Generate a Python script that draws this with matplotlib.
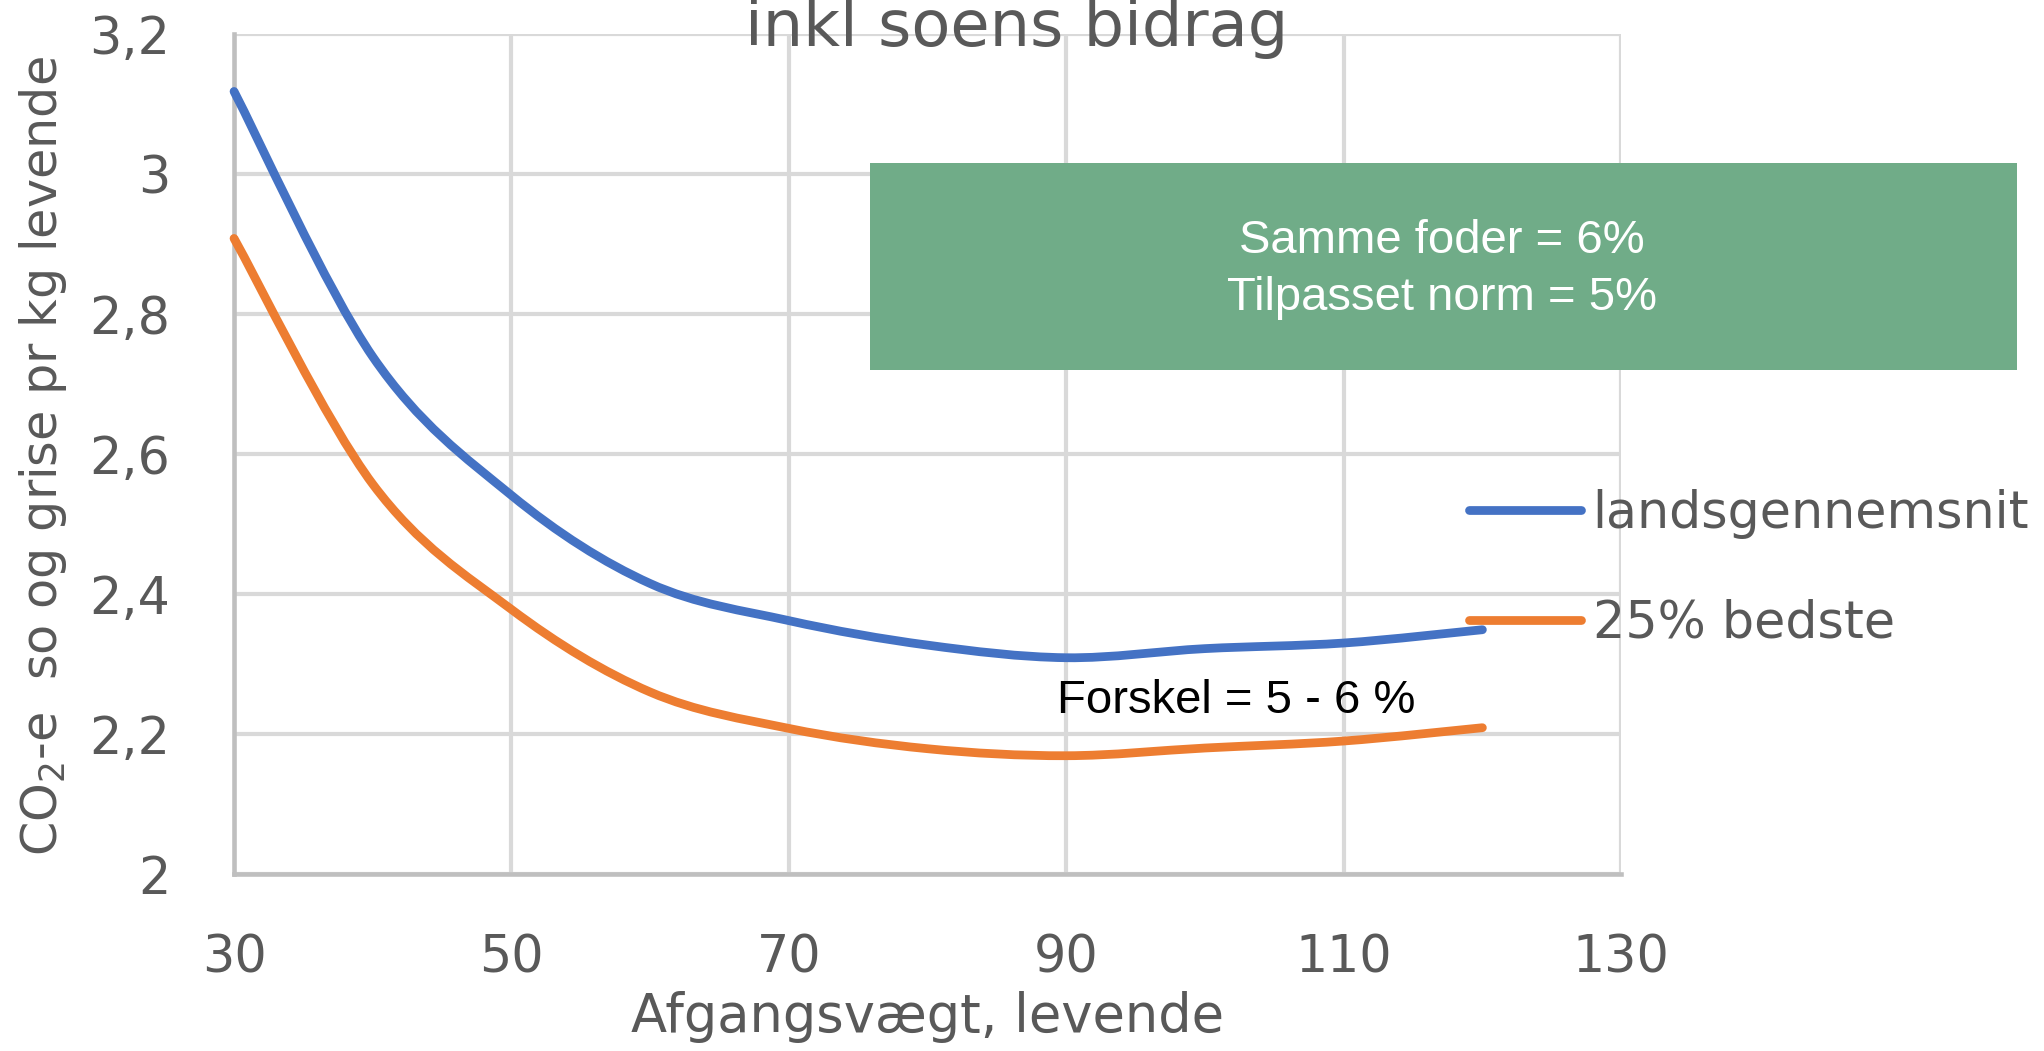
import numpy as np
import matplotlib
matplotlib.use('Agg')
import matplotlib.pyplot as plt
from matplotlib.patches import Rectangle, PathPatch
from matplotlib.path import Path
from matplotlib.lines import Line2D

plt.rcParams['font.family'] = ['DejaVu Sans']
plt.rcParams['mathtext.default'] = 'regular'

# afgangsvaegt (kg levende)
weight = [30, 40, 50, 60, 70, 80, 90, 100, 110, 120]
# CO2-e pr kg levende
landsgennemsnit = [3.118, 2.739, 2.541, 2.415, 2.362, 2.327, 2.309, 2.322, 2.330, 2.349]
bedste25 = [2.908, 2.557, 2.378, 2.26, 2.208, 2.179, 2.169, 2.18, 2.19, 2.209]

series_names = ['landsgennemsnit', '25% bedste']
series_colors = ['#4472C4', '#ED7D31']
xticks = [30, 50, 70, 90, 110, 130]
yticks = [2.0, 2.2, 2.4, 2.6, 2.8, 3.0, 3.2]
ytick_labels = ['2', '2,2', '2,4', '2,6', '2,8', '3', '3,2']

grey_txt = '#595959'
LW = 6.3


def smooth_path(x, y):
    # excel style "smoothed line": cubic bezier through the points
    p = np.column_stack([x, y]).astype(float)
    verts = [p[0]]
    codes = [Path.MOVETO]
    n = len(p)
    for i in range(n - 1):
        prev = p[i - 1] if i > 0 else p[i]
        nxt = p[i + 2] if i + 2 < n else p[i + 1]
        c1 = p[i] + (p[i + 1] - prev) / 6
        c2 = p[i + 1] - (nxt - p[i]) / 6
        verts += [c1, c2, p[i + 1]]
        codes += [Path.CURVE4] * 3
    return Path(verts, codes)


fig = plt.figure(figsize=(20.44, 10.51), dpi=100)
ax = fig.add_axes([0.1145, 0.1684, 0.6786, 0.7992])

handles = []
for vals, name, col in zip([landsgennemsnit, bedste25], series_names, series_colors):
    patch = PathPatch(smooth_path(weight, vals), facecolor='none', edgecolor=col, lw=LW,
                      capstyle='round', joinstyle='round', zorder=3, clip_on=False)
    ax.add_patch(patch)
    handles.append(Line2D([], [], color=col, lw=LW, solid_capstyle='round', label=name))

ax.set_xlim(30, 130)
ax.set_ylim(2.0, 3.2)
ax.set_xticks(xticks)
ax.set_yticks(yticks)
ax.set_yticklabels(ytick_labels)
ax.tick_params(axis='both', length=0, labelsize=36.5, colors=grey_txt)
ax.tick_params(axis='y', pad=46)
ax.tick_params(axis='x', pad=43)
ax.grid(True, color='#D9D9D9', lw=3, zorder=0)
ax.set_axisbelow(True)
for s in ['top', 'right']:
    ax.spines[s].set_visible(False)
for s in ['left', 'bottom']:
    ax.spines[s].set_color('#BFBFBF')
    ax.spines[s].set_linewidth(3.3)

# title (upper line is cut off in the original)
fig.text(0.4976, 0.956, 'inkl soens bidrag', ha='center', va='baseline',
         fontsize=46, color=grey_txt)

fig.text(0.4537, 0.018, 'Afgangsvægt, levende', ha='center', va='baseline',
         fontsize=38, color=grey_txt)
fig.text(0.0208, 0.566, 'CO$_2$-e  so og grise pr kg levende', rotation=90,
         ha='center', va='center', fontsize=35.5, color=grey_txt)

leg = ax.legend(handles=handles, loc='center left', bbox_to_anchor=(0.7187, 0.459),
                bbox_transform=fig.transFigure, frameon=False, fontsize=36.5,
                handlelength=2.2, handletextpad=0.24, labelspacing=1.18,
                borderpad=0, borderaxespad=0)
for t in leg.get_texts():
    t.set_color(grey_txt)

# green note box
fig.patches.append(Rectangle((0.4254, 0.648), 0.5613, 0.197, transform=fig.transFigure,
                             facecolor='#70AC88', edgecolor='none', zorder=5))
fig.text(0.7055, 0.7707, 'Samme foder = 6%', ha='center', va='center',
         fontsize=34, color='white', family='Liberation Sans', zorder=6)
fig.text(0.7055, 0.7165, 'Tilpasset norm = 5%', ha='center', va='center',
         fontsize=34, color='white', family='Liberation Sans', zorder=6)

ax.text(89.3, 2.23, 'Forskel = 5 - 6 %', ha='left', va='baseline',
        fontsize=34, color='black', family='Liberation Sans', zorder=4)

fig.savefig('out.png', dpi=100)
